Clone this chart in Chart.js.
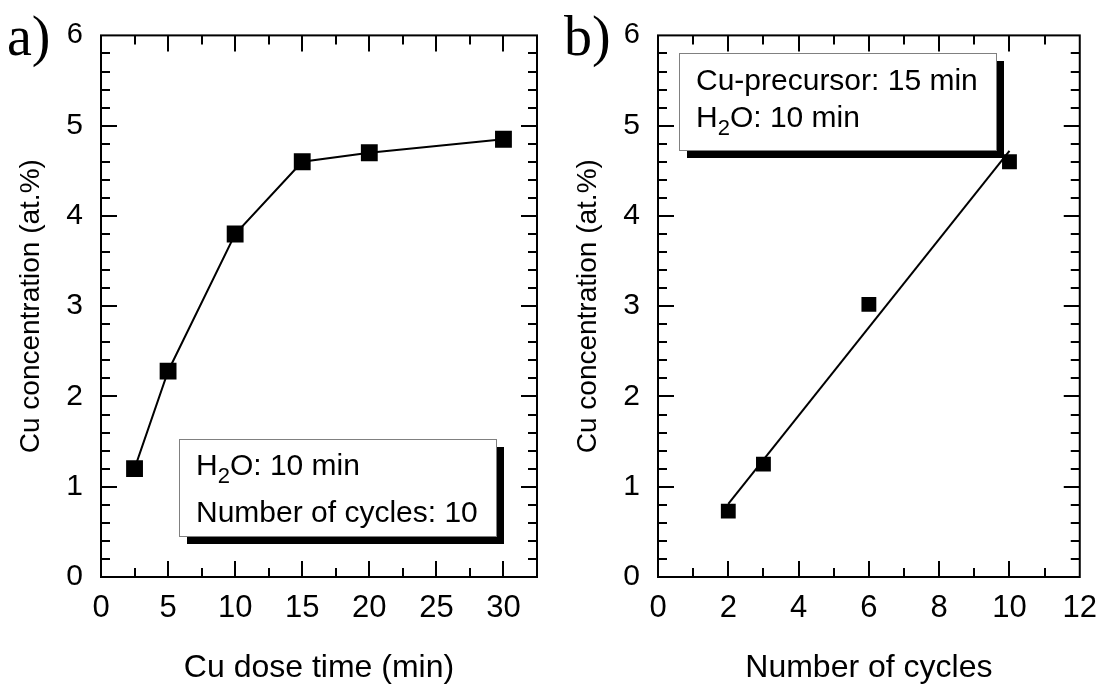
<!DOCTYPE html>
<html>
<head>
<meta charset="utf-8">
<script src="https://cdn.jsdelivr.net/npm/chart.js@4.4.1/dist/chart.umd.min.js"></script>
<style>
  html, body { margin: 0; padding: 0; background: #fff; }
  #wrap { position: relative; width: 1110px; height: 684px; }
  .panel { position: absolute; top: 0; }
</style>
</head>
<body>
<div id="wrap">
  <div class="panel" style="left:0"><canvas id="chartA" width="557" height="684"></canvas></div>
  <div class="panel" style="left:557px"><canvas id="chartB" width="553" height="684"></canvas></div>
</div>
<script>
// panel a: Cu concentration vs Cu dose time
const doseTime = [2.5, 5, 10, 15, 20, 30];
const cuByDose = [1.2, 2.28, 3.8, 4.6, 4.7, 4.85];

// panel b: Cu concentration vs number of cycles, plus linear fit
const cycles = [2, 3, 6, 10];
const cuByCycles = [0.73, 1.25, 3.02, 4.6];
const fitCycles = [2, 10];
const fitCu = [0.81, 4.72];

const SANS = "'Liberation Sans', Arial, sans-serif";

function toPoints(xs, ys) {
  return xs.map((x, i) => ({ x: x, y: ys[i] }));
}

function near(v, step) {
  return Math.abs(v / step - Math.round(v / step)) < 1e-6;
}

// frame with inward ticks on all four sides
const framePlugin = {
  id: "frame",
  afterDatasetsDraw(chart, args, opts) {
    const { ctx, chartArea: a } = chart;
    const xs = chart.scales.x, ys = chart.scales.y;
    const major = 16, minor = 9;
    ctx.save();
    ctx.strokeStyle = "#000";
    ctx.lineWidth = 2;
    ctx.beginPath();
    for (let v = opts.xMinor; v < xs.max - 1e-6; v += opts.xMinor) {
      const px = Math.round(xs.getPixelForValue(v));
      const len = near(v, opts.xMajor) ? major : minor;
      ctx.moveTo(px, a.bottom); ctx.lineTo(px, a.bottom - len);
      ctx.moveTo(px, a.top); ctx.lineTo(px, a.top + len);
    }
    for (let v = opts.yMinor; v < ys.max - 1e-6; v += opts.yMinor) {
      const py = Math.round(ys.getPixelForValue(v));
      const len = near(v, opts.yMajor) ? major : minor;
      ctx.moveTo(a.left, py); ctx.lineTo(a.left + len, py);
      ctx.moveTo(a.right, py); ctx.lineTo(a.right - len, py);
    }
    ctx.stroke();
    ctx.strokeRect(a.left, a.top, a.right - a.left, a.bottom - a.top);

    // annotation box with drop shadow
    const b = opts.box;
    ctx.fillStyle = "#000";
    ctx.fillRect(b.x + 8, b.y + 8, b.w, b.h);
    ctx.fillStyle = "#fff";
    ctx.fillRect(b.x, b.y, b.w, b.h);
    ctx.strokeStyle = "#808080";
    ctx.lineWidth = 1;
    ctx.strokeRect(b.x + 0.5, b.y + 0.5, b.w, b.h);
    ctx.fillStyle = "#000";
    ctx.textBaseline = "alphabetic";
    ctx.textAlign = "left";
    b.lines.forEach((line, i) => {
      let cx = b.tx;
      const by = b.ty[i];
      line.forEach(seg => {
        ctx.font = (seg.sub ? b.subSize : b.size) + "px " + SANS;
        ctx.fillText(seg.t, cx, seg.sub ? by + 8 : by);
        cx += ctx.measureText(seg.t).width;
      });
    });

    // panel letter
    ctx.font = "56px 'Liberation Serif', 'Times New Roman', serif";
    ctx.fillText(opts.letter, 7, 55);
    ctx.restore();
  }
};

function makeOptions(xTitle, xMax, xStep, frameOpts) {
  return {
    responsive: false,
    animation: false,
    layout: { padding: { top: 34, right: 20, left: 0, bottom: 0 } },
    plugins: { legend: { display: false }, tooltip: { enabled: false }, frame: frameOpts },
    scales: {
      x: {
        type: "linear", min: 0, max: xMax,
        grid: { display: false, drawTicks: false },
        border: { display: false },
        ticks: { stepSize: xStep, includeBounds: false, padding: 13, color: "#000",
                 font: { family: SANS, size: 31 } },
        title: { display: true, text: xTitle, color: "#000", padding: { top: 0, bottom: 0 },
                 font: { family: SANS, size: 32, lineHeight: 1 } },
        afterFit: s => { s.height = 107; }
      },
      y: {
        type: "linear", min: 0, max: 6,
        grid: { display: false, drawTicks: false },
        border: { display: false },
        ticks: { stepSize: 1, padding: 18, color: "#000",
                 font: c => ({ family: SANS, size: c.tick && c.tick.value === 6 ? 29 : 30 }) },
        title: { display: true, text: "Cu concentration (at.%)", color: "#000",
                 padding: { top: 14, bottom: 0 }, font: { family: SANS, size: 28 } },
        afterFit: s => { s.width = 101; }
      }
    }
  };
}

const markerStyle = {
  pointStyle: "rect", pointRadius: 10.5, pointHoverRadius: 10.5,
  backgroundColor: "#000", borderColor: "#000", borderWidth: 0
};

new Chart(document.getElementById("chartA"), {
  type: "scatter",
  data: {
    datasets: [Object.assign({
      data: toPoints(doseTime, cuByDose),
      showLine: true, borderColor: "#000"
    }, markerStyle, { borderWidth: 2 })]
  },
  options: makeOptions("Cu dose time (min)", 32.5, 5, {
    xMinor: 2.5, xMajor: 5, yMinor: 0.2, yMajor: 1, letter: "a)",
    box: {
      x: 179, y: 439, w: 317, h: 97, tx: 196, ty: [475, 522], size: 30, subSize: 22,
      lines: [[{ t: "H" }, { t: "2", sub: true }, { t: "O: 10 min" }],
              [{ t: "Number of cycles: 10" }]]
    }
  }),
  plugins: [framePlugin]
});

new Chart(document.getElementById("chartB"), {
  type: "scatter",
  data: {
    datasets: [
      Object.assign({ data: toPoints(cycles, cuByCycles), showLine: false }, markerStyle),
      {
        data: toPoints(fitCycles, fitCu), showLine: true,
        borderColor: "#000", borderWidth: 2, pointRadius: 0
      }
    ]
  },
  options: makeOptions("Number of cycles", 12, 2, {
    xMinor: 1, xMajor: 2, yMinor: 0.2, yMajor: 1, letter: "b)",
    box: {
      x: 122, y: 53, w: 317, h: 97, tx: 139, ty: [90, 127], size: 30, subSize: 22,
      lines: [[{ t: "Cu-precursor: 15 min" }],
              [{ t: "H" }, { t: "2", sub: true }, { t: "O: 10 min" }]]
    }
  }),
  plugins: [framePlugin]
});
</script>
</body>
</html>
